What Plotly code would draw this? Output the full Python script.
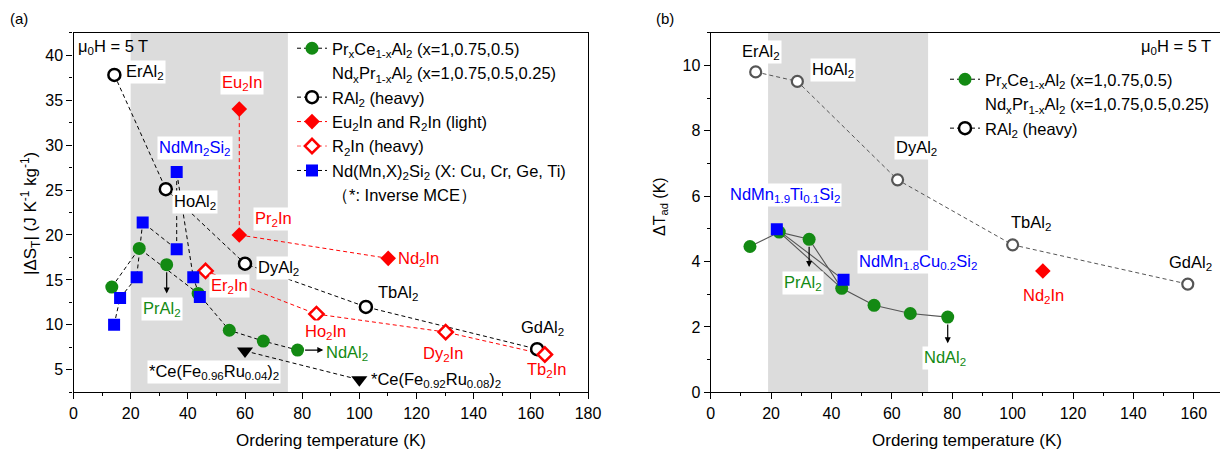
import plotly.graph_objects as go

# ---------------- data: panel (a) ----------------
pc_T = [13.4, 23.0, 43.6, 54.5, 66.4, 78.4]          # PrxCe1-xAl2 / NdxPr1-xAl2
pc_S = [14.2, 18.5, 13.5, 9.4, 8.2, 7.2]
prAl2_T = [32.6]
prAl2_S = [16.7]
ral2_T = [14.3, 32.3, 60.0, 102.3, 162.2]             # RAl2 heavy
ral2_S = [37.8, 25.1, 16.8, 12.0, 7.3]
r2in_light_T = [58.0, 58.0, 110.1]                    # Eu2In, Pr2In, Nd2In
r2in_light_S = [34.0, 20.0, 17.4]
r2in_heavy_T = [46.2, 85.0, 130.2, 164.9]             # Er2In, Ho2In, Dy2In, Tb2In
r2in_heavy_S = [16.0, 11.2, 9.2, 6.7]
ndmn_T = [14.2, 16.3, 22.1, 24.2, 36.1, 36.1, 41.9, 44.2]
ndmn_S = [10.0, 13.0, 15.3, 21.4, 18.4, 27.0, 15.3, 13.1]
cefe_T = [60.0, 100.0]                                # inverse MCE
cefe_S = [7.1, 3.9]

# ---------------- data: panel (b) ----------------
pc_T_b = [13.0, 22.7, 32.6, 43.4, 54.1, 66.1, 78.5]
pc_dT = [4.46, 4.90, 4.68, 3.18, 2.66, 2.41, 2.30]
ral2_T_b = [14.9, 28.7, 61.9, 100.0, 158.0]
ral2_dT = [9.80, 9.51, 6.50, 4.51, 3.31]
ndmn_T_b = [21.9, 44.0]
ndmn_dT = [4.99, 3.44]
nd2in_T_b = [110.0]
nd2in_dT = [3.71]

band_a = [20, 75]
band_b = [19, 72]

GREEN = '#138a13'
BLUE = '#0000ff'
RED = '#ff0000'
GRAY = '#555555'
DASH = '4px,3px'
FONT = 'Arial, Liberation Sans, sans-serif'
LFS = 16.5   # legend / label font size

# page offset (body margin) compensation: positions below are given in screen px
OFF = 8
W, H = 1220, 450
def PX(px):
    return (px - OFF) / W
def PY(py):
    return 1 - (py - OFF) / H

fig = go.Figure()

def add(x, y, xa, ya, mode, line=None, marker=None, name=None, legend=None, showlegend=False):
    fig.add_trace(go.Scatter(x=x, y=y, xaxis=xa, yaxis=ya, mode=mode, line=line, marker=marker,
                             name=name, legend=legend, showlegend=showlegend, hoverinfo='skip'))

blk_dash = dict(color='black', width=1, dash=DASH)
red_dash = dict(color=RED, width=1, dash=DASH)

# ---- panel (a) lines
add(pc_T, pc_S, 'x', 'y', 'lines', line=blk_dash)
add(ral2_T, ral2_S, 'x', 'y', 'lines', line=blk_dash)
add(r2in_light_T, r2in_light_S, 'x', 'y', 'lines', line=red_dash)
add(r2in_heavy_T, r2in_heavy_S, 'x', 'y', 'lines', line=red_dash)
add(ndmn_T, ndmn_S, 'x', 'y', 'lines', line=blk_dash)
add(cefe_T, cefe_S, 'x', 'y', 'lines', line=blk_dash)
# ---- panel (a) markers
m_green = dict(symbol='circle', size=13, color=GREEN, line=dict(width=0))
m_open = dict(symbol='circle', size=12, color='white', line=dict(color='black', width=2.5))
m_rd = dict(symbol='diamond', size=12, color=RED, line=dict(width=0))
m_rdo = dict(symbol='diamond', size=11, color='white', line=dict(color=RED, width=2.5))
m_sq = dict(symbol='square', size=12, color=BLUE, line=dict(width=0))
m_tri = dict(symbol='triangle-down', size=14, color='black', line=dict(width=0))
add(pc_T, pc_S, 'x', 'y', 'markers', marker=m_green)
add(prAl2_T, prAl2_S, 'x', 'y', 'markers', marker=m_green)
add(ral2_T, ral2_S, 'x', 'y', 'markers', marker=m_open)
add(r2in_light_T, r2in_light_S, 'x', 'y', 'markers', marker=m_rd)
add(r2in_heavy_T, r2in_heavy_S, 'x', 'y', 'markers', marker=m_rdo)
add(ndmn_T, ndmn_S, 'x', 'y', 'markers', marker=m_sq)
add(cefe_T, cefe_S, 'x', 'y', 'markers', marker=m_tri)

# ---- legend (a) entries
L = 'legend'
add([None], [None], 'x', 'y', 'lines+markers', line=blk_dash, marker=m_green,
    name='Pr<sub>x</sub>Ce<sub>1-x</sub>Al<sub>2</sub> (x=1,0.75,0.5)', legend=L, showlegend=True)
add([None], [None], 'x', 'y', 'markers', marker=dict(color='rgba(0,0,0,0)', size=1),
    name='Nd<sub>x</sub>Pr<sub>1-x</sub>Al<sub>2</sub> (x=1,0.75,0.5,0.25)', legend=L, showlegend=True)
add([None], [None], 'x', 'y', 'lines+markers', line=blk_dash, marker=m_open,
    name='RAl<sub>2</sub> (heavy)', legend=L, showlegend=True)
add([None], [None], 'x', 'y', 'lines+markers', line=red_dash, marker=m_rd,
    name='Eu<sub>2</sub>In and R<sub>2</sub>In (light)', legend=L, showlegend=True)
add([None], [None], 'x', 'y', 'lines+markers', line=dict(color='#ff6666', width=1, dash=DASH), marker=m_rdo,
    name='R<sub>2</sub>In (heavy)', legend=L, showlegend=True)
add([None], [None], 'x', 'y', 'lines+markers', line=blk_dash, marker=m_sq,
    name='Nd(Mn,X)<sub>2</sub>Si<sub>2</sub> (X: Cu, Cr, Ge, Ti)', legend=L, showlegend=True)
add([None], [None], 'x', 'y', 'markers', marker=dict(color='rgba(0,0,0,0)', size=1),
    name='（*: Inverse MCE）', legend=L, showlegend=True)

# ---- panel (b) lines
g_solid = dict(color=GRAY, width=1.1)
add(pc_T_b, pc_dT, 'x2', 'y2', 'lines', line=g_solid)
add([pc_T_b[1], pc_T_b[3]], [pc_dT[1], pc_dT[3]], 'x2', 'y2', 'lines', line=g_solid)
add(ndmn_T_b, ndmn_dT, 'x2', 'y2', 'lines', line=g_solid)
add(ral2_T_b, ral2_dT, 'x2', 'y2', 'lines', line=dict(color=GRAY, width=1, dash=DASH))
m_open_b = dict(symbol='circle', size=11, color='white', line=dict(color=GRAY, width=2.2))
add(pc_T_b, pc_dT, 'x2', 'y2', 'markers', marker=m_green)
add(ndmn_T_b, ndmn_dT, 'x2', 'y2', 'markers', marker=m_sq)
add(ral2_T_b, ral2_dT, 'x2', 'y2', 'markers', marker=m_open_b)
add(nd2in_T_b, nd2in_dT, 'x2', 'y2', 'markers', marker=m_rd)

L2 = 'legend2'
add([None], [None], 'x2', 'y2', 'lines+markers', line=blk_dash, marker=m_green,
    name='Pr<sub>x</sub>Ce<sub>1-x</sub>Al<sub>2</sub> (x=1,0.75,0.5)', legend=L2, showlegend=True)
add([None], [None], 'x2', 'y2', 'markers', marker=dict(color='rgba(0,0,0,0)', size=1),
    name='Nd<sub>x</sub>Pr<sub>1-x</sub>Al<sub>2</sub> (x=1,0.75,0.5,0.25)', legend=L2, showlegend=True)
add([None], [None], 'x2', 'y2', 'lines+markers', line=blk_dash, marker=m_open,
    name='RAl<sub>2</sub> (heavy)', legend=L2, showlegend=True)

# ---------------- annotations ----------------
ann = []
def lab(x, y, text, color='black', xref='x', yref='y', xanchor='center', bg='white', size=LFS):
    ann.append(dict(x=x, y=y, xref=xref, yref=yref, text=text, showarrow=False,
                    xanchor=xanchor, yanchor='middle', bgcolor=bg, borderpad=1,
                    font=dict(color=color, size=size, family=FONT)))

lab(0.9, 40.9, 'μ<sub>0</sub>H = 5 T', xanchor='left', bg='rgba(0,0,0,0)')
lab(25.0, 38.1, 'ErAl<sub>2</sub>')
lab(58.9, 36.9, 'Eu<sub>2</sub>In', RED)
lab(42.5, 29.7, 'NdMn<sub>2</sub>Si<sub>2</sub>', BLUE)
lab(42.5, 23.7, 'HoAl<sub>2</sub>')
lab(70.1, 21.8, 'Pr<sub>2</sub>In', RED)
lab(71.8, 16.3, 'DyAl<sub>2</sub>')
lab(54.7, 14.3, 'Er<sub>2</sub>In', RED)
lab(120.8, 17.3, 'Nd<sub>2</sub>In', RED)
lab(113.4, 13.6, 'TbAl<sub>2</sub>')
lab(31.0, 11.8, 'PrAl<sub>2</sub>', GREEN)
lab(88.3, 9.2, 'Ho<sub>2</sub>In', RED)
lab(129.2, 6.8, 'Dy<sub>2</sub>In', RED)
lab(164.2, 9.7, 'GdAl<sub>2</sub>', bg='rgba(0,0,0,0)')
lab(165.6, 5.0, 'Tb<sub>2</sub>In', RED, bg='rgba(0,0,0,0)')
lab(95.7, 6.9, 'NdAl<sub>2</sub>', GREEN)
lab(49.2, 4.8, '*Ce(Fe<sub>0.96</sub>Ru<sub>0.04</sub>)<sub>2</sub>')
lab(126.7, 3.9, '*Ce(Fe<sub>0.92</sub>Ru<sub>0.08</sub>)<sub>2</sub>', bg='rgba(0,0,0,0)')

lab(166.3, 10.57, 'μ<sub>0</sub>H = 5 T', xref='x2', yref='y2', xanchor='right', bg='rgba(0,0,0,0)')
lab(16.6, 10.41, 'ErAl<sub>2</sub>', xref='x2', yref='y2')
lab(40.6, 9.85, 'HoAl<sub>2</sub>', xref='x2', yref='y2')
lab(68.3, 7.47, 'DyAl<sub>2</sub>', xref='x2', yref='y2')
lab(24.6, 6.04, 'NdMn<sub>1.9</sub>Ti<sub>0.1</sub>Si<sub>2</sub>', BLUE, xref='x2', yref='y2')
lab(68.8, 4.0, 'NdMn<sub>1.8</sub>Cu<sub>0.2</sub>Si<sub>2</sub>', BLUE, xref='x2', yref='y2')
lab(30.5, 3.34, 'PrAl<sub>2</sub>', GREEN, xref='x2', yref='y2')
lab(77.7, 1.04, 'NdAl<sub>2</sub>', GREEN, xref='x2', yref='y2')
lab(106.2, 5.17, 'TbAl<sub>2</sub>', xref='x2', yref='y2')
lab(158.9, 3.95, 'GdAl<sub>2</sub>', xref='x2', yref='y2')
lab(110.1, 2.96, 'Nd<sub>2</sub>In', RED, xref='x2', yref='y2')

def arrow(x0, y0, x1, y1, xr, yr):
    ann.append(dict(x=x1, y=y1, ax=x0, ay=y0, xref=xr, yref=yr, axref=xr, ayref=yr,
                    text='', showarrow=True, arrowhead=2, arrowsize=1, arrowwidth=1.2,
                    arrowcolor='black', startstandoff=6, standoff=0))

arrow(prAl2_T[0], prAl2_S[0], prAl2_T[0], prAl2_S[0] - 3.2, 'x', 'y')
arrow(pc_T[-1], pc_S[-1], pc_T[-1] + 9.0, pc_S[-1], 'x', 'y')
arrow(pc_T_b[2], pc_dT[2], pc_T_b[2], pc_dT[2] - 0.85, 'x2', 'y2')
arrow(pc_T_b[-1], pc_dT[-1], pc_T_b[-1], pc_dT[-1] - 0.8, 'x2', 'y2')

def ptxt(px, py, text, size=17, angle=0, xanchor='center'):
    ann.append(dict(x=PX(px), y=PY(py), xref='paper', yref='paper', text=text, showarrow=False,
                    xanchor=xanchor, yanchor='middle', textangle=angle,
                    font=dict(size=size, family=FONT, color='black')))

ptxt(331, 440, 'Ordering temperature (K)')
ptxt(967, 440, 'Ordering temperature (K)')
ptxt(30, 214, '|ΔS<sub>T</sub>| (J K<sup>-1</sup> kg<sup>-1</sup>)', angle=-90)
ptxt(660, 207, 'ΔT<sub>ad</sub> (K)', size=16, angle=-90)
ptxt(8, 18, '(a)', size=15, xanchor='left')
ptxt(665, 18, '(b)', size=15)

shapes = [
    dict(type='rect', xref='x', yref='y domain', x0=band_a[0], x1=band_a[1], y0=0, y1=1,
         fillcolor='#dcdcdc', line=dict(width=0), layer='below'),
    dict(type='rect', xref='x2', yref='y2 domain', x0=band_b[0], x1=band_b[1], y0=0, y1=1,
         fillcolor='#dcdcdc', line=dict(width=0), layer='below'),
]

ydom = [PY(392.3), PY(32.7)]
axis_common = dict(showgrid=False, zeroline=False, showline=True, linecolor='black', linewidth=1.3,
                   mirror=True, ticks='outside', ticklen=6, tickwidth=1.2, tickcolor='black',
                   automargin=False,
                   tickfont=dict(size=16, family=FONT, color='black'))

fig.update_layout(
    template='none',
    width=W, height=H, margin=dict(l=0, r=0, t=0, b=0, pad=0, autoexpand=False),
    paper_bgcolor='white', plot_bgcolor='white',
    font=dict(family=FONT, size=16, color='black'),
    xaxis=dict(domain=[PX(73.5), PX(588)], range=[0, 180], dtick=20, tick0=0,
               minor=dict(dtick=10, ticks='outside', ticklen=3, tickcolor='black'), anchor='y', **axis_common),
    yaxis=dict(domain=ydom, range=[2.5, 42.5], dtick=5, tick0=0,
               minor=dict(dtick=2.5, ticks='outside', ticklen=3, tickcolor='black'), anchor='x', **axis_common),
    xaxis2=dict(domain=[PX(710.7), PX(1224)], range=[0, 170], dtick=20, tick0=0,
                minor=dict(dtick=10, ticks='outside', ticklen=3, tickcolor='black'), anchor='y2', **axis_common),
    yaxis2=dict(domain=ydom, range=[0, 11], dtick=2, tick0=0,
                minor=dict(dtick=1, ticks='outside', ticklen=3, tickcolor='black'), anchor='x2', **axis_common),
    legend=dict(x=PX(292), y=PY(31), xanchor='left', yanchor='top', bgcolor='rgba(0,0,0,0)',
                font=dict(size=LFS, family=FONT), tracegroupgap=0, traceorder='normal', itemwidth=30),
    legend2=dict(x=PX(945), y=PY(62), xanchor='left', yanchor='top', bgcolor='rgba(0,0,0,0)',
                 font=dict(size=LFS, family=FONT), tracegroupgap=0, traceorder='normal', itemwidth=30),
    annotations=ann, shapes=shapes,
)

fig.write_html('out.html')
